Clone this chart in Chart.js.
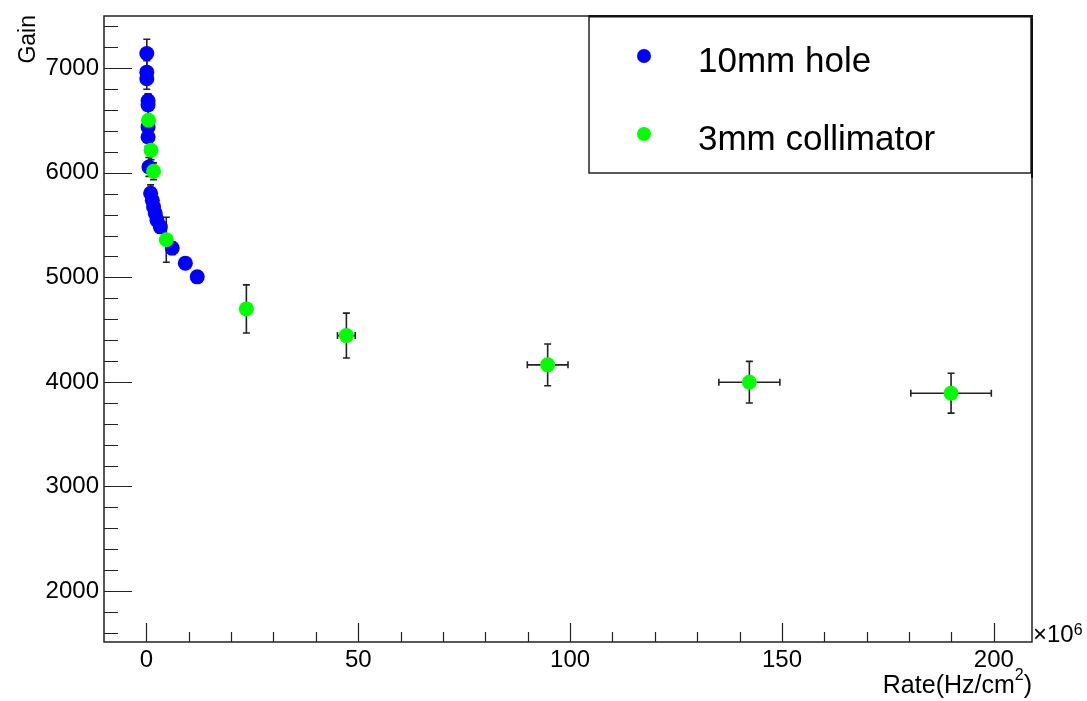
<!DOCTYPE html>
<html><head><meta charset="utf-8">
<script src="https://cdn.jsdelivr.net/npm/chart.js@4/dist/chart.umd.min.js"></script>
<style>html,body{margin:0;padding:0;background:#fff;} #wrap{width:1087px;height:701px;}</style>
</head><body><div id="wrap"><canvas id="c" width="1087" height="701"></canvas></div>
<script>
const FONT = "'Liberation Sans', Arial, Helvetica, sans-serif";

// Axis ticks (x in units of 10^6 Hz/cm^2)
const xTickValues = [0, 50, 100, 150, 200];
const xTickLabels = ['0', '50', '100', '150', '200'];
const yTickValues = [2000, 3000, 4000, 5000, 6000, 7000];
const yTickLabels = ['2000', '3000', '4000', '5000', '6000', '7000'];
const seriesNames = ['10mm hole', '3mm collimator'];

// 10mm hole
const blueRate    = [0.1, 0.1, 0.1, 0.4, 0.4, 0.4, 0.4, 0.6, 1.0, 1.4, 1.7, 2.1, 2.5, 3.3, 6.1, 9.2, 12.0];
const blueGain    = [7141, 6963, 6900, 6690, 6650, 6439, 6343, 6056, 5805, 5738, 5674, 5612, 5547, 5483, 5280, 5136, 5005];
const blueGainErr = [137, 110, 100, 65, 100, 100, 90, 90, 80, 80, 70, 70, 70, 60, 60, 50, 50];

// 3mm collimator
const greenRate    = [0.5, 1.1, 1.7, 4.7, 23.6, 47.2, 94.7, 142.3, 189.9];
const greenRateErr = [0, 0, 0, 0, 0, 2.1, 4.8, 7.2, 9.5];
const greenGain    = [6503, 6216, 6015, 5360, 4698, 4443, 4163, 3997, 3892];
const greenGainErr = [170, 90, 80, 215, 230, 215, 200, 199, 191];

const toPoints = (xs, ys) => xs.map((x, i) => ({x: x, y: ys[i]}));

const rootStyle = {
  id: 'rootStyle',
  beforeDatasetsDraw(chart) {
    const ctx = chart.ctx, a = chart.chartArea;
    const xs = chart.scales.x, ys = chart.scales.y;
    ctx.save();
    // frame
    ctx.strokeStyle = '#222';
    ctx.lineWidth = 1.5;
    ctx.strokeRect(a.left, a.top, a.right - a.left, a.bottom - a.top);
    // y ticks (inside)
    ctx.lineWidth = 1.2;
    ctx.beginPath();
    for (let v = 1600; v <= 7400; v += 200) {
      const p = Math.round(ys.getPixelForValue(v)) + 0.5;
      const len = (v % 1000 === 0) ? 28 : 14;
      ctx.moveTo(a.left, p); ctx.lineTo(a.left + len, p);
    }
    // x ticks
    for (let v = 0; v <= 200; v += 10) {
      const p = Math.round(xs.getPixelForValue(v)) + 0.5;
      const len = (v % 50 === 0) ? 19 : 10;
      ctx.moveTo(p, a.bottom); ctx.lineTo(p, a.bottom - len);
    }
    ctx.stroke();

    // error bars
    ctx.beginPath();
    ctx.rect(a.left, a.top, a.right - a.left, a.bottom - a.top);
    ctx.clip();
    ctx.strokeStyle = '#222';
    ctx.lineWidth = 1.6;
    chart.data.datasets.forEach(ds => {
      ds.data.forEach((pt, i) => {
        const px = xs.getPixelForValue(pt.x), py = ys.getPixelForValue(pt.y);
        const ey = ds.yErr ? ds.yErr[i] : 0, ex = ds.xErr ? ds.xErr[i] : 0;
        ctx.beginPath();
        if (ey > 0) {
          const t = ys.getPixelForValue(pt.y + ey), b = ys.getPixelForValue(pt.y - ey);
          ctx.moveTo(px, t); ctx.lineTo(px, b);
          ctx.moveTo(px - 3.5, t); ctx.lineTo(px + 3.5, t);
          ctx.moveTo(px - 3.5, b); ctx.lineTo(px + 3.5, b);
        }
        if (ex > 0) {
          const l = xs.getPixelForValue(pt.x - ex), r = xs.getPixelForValue(pt.x + ex);
          ctx.moveTo(l, py); ctx.lineTo(r, py);
          ctx.moveTo(l, py - 3.5); ctx.lineTo(l, py + 3.5);
          ctx.moveTo(r, py - 3.5); ctx.lineTo(r, py + 3.5);
        }
        ctx.stroke();
      });
    });
    ctx.restore();
  },
  afterDraw(chart) {
    const ctx = chart.ctx, a = chart.chartArea;
    ctx.save();
    ctx.fillStyle = '#000';
    // y title
    ctx.save();
    ctx.translate(35, 15);
    ctx.rotate(-Math.PI / 2);
    ctx.font = '23px ' + FONT;
    ctx.textAlign = 'right';
    ctx.textBaseline = 'alphabetic';
    ctx.fillText('Gain', 0, 0);
    ctx.restore();
    // x title: Rate(Hz/cm^2), right aligned
    ctx.textBaseline = 'alphabetic';
    ctx.textAlign = 'left';
    const big = '25px ' + FONT, small = '16px ' + FONT;
    ctx.font = big;
    const w1 = ctx.measureText('Rate(Hz/cm').width, w3 = ctx.measureText(')').width;
    ctx.font = small;
    const w2 = ctx.measureText('2').width;
    let x0 = a.right - (w1 + w2 + w3);
    ctx.font = big; ctx.fillText('Rate(Hz/cm', x0, 693);
    ctx.font = small; ctx.fillText('2', x0 + w1, 680);
    ctx.font = big; ctx.fillText(')', x0 + w1 + w2, 693);
    // exponent ×10^6
    ctx.font = '24px ' + FONT;
    ctx.fillText('\u00d710', a.right + 1, 642);
    const we = ctx.measureText('\u00d710').width;
    ctx.font = small;
    ctx.fillText('6', a.right + 1 + we, 635);

    // legend
    const L = 589, T = a.top, R = 1031, B = 173;
    ctx.fillStyle = '#fff';
    ctx.fillRect(L, T, R - L, B - T);
    ctx.strokeStyle = '#222';
    ctx.lineWidth = 1.5;
    ctx.strokeRect(L, T, R - L, B - T);
    ctx.fillStyle = '#111';
    ctx.fillRect(L, T - 1, R - L + 2, 2.5);
    ctx.fillRect(R, T + 2, 2, B - T + 3);
    const rows = [56, 134];
    chart.data.datasets.forEach((ds, i) => {
      ctx.fillStyle = ds.backgroundColor;
      ctx.beginPath();
      ctx.arc(644, rows[i], 7, 0, Math.PI * 2);
      ctx.fill();
      ctx.fillStyle = '#000';
      ctx.font = '35px ' + FONT;
      ctx.textBaseline = 'middle';
      ctx.fillText(ds.label, 698, rows[i] + 6);
    });
    ctx.restore();
  }
};

new Chart(document.getElementById('c'), {
  type: 'scatter',
  data: {
    datasets: [
      {
        label: seriesNames[0],
        data: toPoints(blueRate, blueGain),
        yErr: blueGainErr,
        backgroundColor: '#0000ff',
        borderColor: '#0000ff',
        pointRadius: 7.5,
        pointBorderWidth: 0,
        order: 2
      },
      {
        label: seriesNames[1],
        data: toPoints(greenRate, greenGain),
        yErr: greenGainErr,
        xErr: greenRateErr,
        backgroundColor: '#00ff00',
        borderColor: '#00ff00',
        pointRadius: 7.5,
        pointBorderWidth: 0,
        order: 1
      }
    ]
  },
  options: {
    responsive: false,
    animation: false,
    devicePixelRatio: 1,
    layout: {padding: {top: 16, right: 55, left: 0, bottom: 0}},
    plugins: {legend: {display: false}, tooltip: {enabled: false}},
    scales: {
      x: {
        type: 'linear', min: -10, max: 209,
        grid: {display: false, drawTicks: false, tickLength: 0},
        border: {display: false},
        afterBuildTicks: s => { s.ticks = xTickValues.map(v => ({value: v})); },
        afterFit: s => { s.height = 59; s.paddingLeft = 0; s.paddingRight = 0; },
        ticks: {
          autoSkip: false, maxRotation: 0, padding: 4, color: '#000',
          font: {family: FONT, size: 24},
          callback: (v) => xTickLabels[xTickValues.indexOf(v)]
        }
      },
      y: {
        type: 'linear', min: 1512, max: 7500,
        grid: {display: false, drawTicks: false, tickLength: 0},
        border: {display: false},
        afterBuildTicks: s => { s.ticks = yTickValues.map(v => ({value: v})); },
        afterFit: s => { s.width = 104; s.paddingTop = 0; s.paddingBottom = 0; },
        ticks: {
          autoSkip: false, padding: 5, color: '#000',
          font: {family: FONT, size: 24},
          callback: (v) => yTickLabels[yTickValues.indexOf(v)]
        }
      }
    }
  },
  plugins: [rootStyle]
});
</script></body></html>
